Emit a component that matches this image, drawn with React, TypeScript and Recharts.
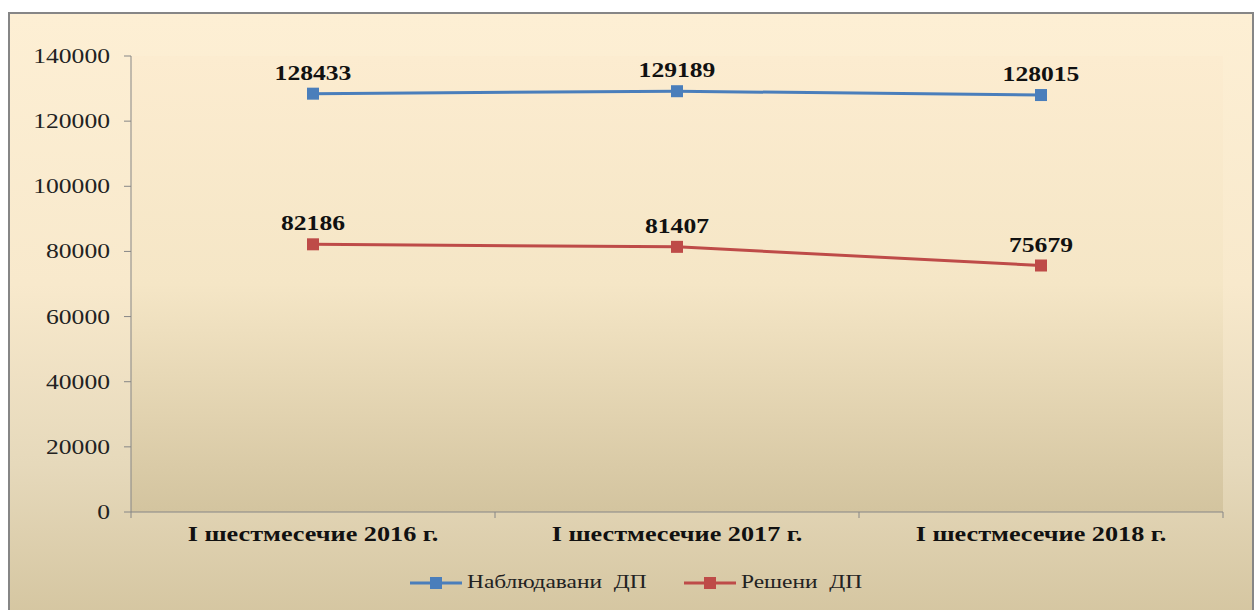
import React from "react";
import { CartesianGrid, LabelList, Legend, Line, LineChart, XAxis, YAxis } from "recharts";

const categories = ["I шестмесечие 2016 г.", "I шестмесечие 2017 г.", "I шестмесечие 2018 г."];
const observed = [128433, 129189, 128015];
const solved = [82186, 81407, 75679];
const yTicks = [0, 20000, 40000, 60000, 80000, 100000, 120000, 140000];

const seriesNames = ["Наблюдавани  ДП", "Решени  ДП"];
const seriesColors = ["#4a7ebb", "#be4b48"];

const data = categories.map((c, i) => ({ cat: c, observed: observed[i], solved: solved[i] }));

const FONT = "'Liberation Serif', 'Times New Roman', serif";
const BAND = 364;
// the original is stretched sideways a bit
const SX = 1.22;

function SquareDot(props: any) {
  const { cx, cy, stroke } = props;
  if (cx == null || cy == null) return null;
  return <rect x={cx - 6} y={cy - 6} width={12} height={12} fill={stroke} />;
}

function WideText({ x, y, anchor, size, bold, children }: any) {
  return (
    <text
      transform={`translate(${x},${y}) scale(${SX},1)`}
      textAnchor={anchor}
      fontFamily={FONT}
      fontSize={size}
      fontWeight={bold ? "bold" : "normal"}
      fill={bold ? "#111" : "#222"}
    >
      {children}
    </text>
  );
}

function XTick(props: any) {
  const { x, y, payload, index } = props;
  const last = index === categories.length - 1;
  return (
    <g>
      <line x1={x - BAND / 2} y1={y - 8} x2={x - BAND / 2} y2={y - 2} stroke="#868686" />
      {last && <line x1={x + BAND / 2} y1={y - 8} x2={x + BAND / 2} y2={y - 2} stroke="#868686" />}
      <WideText x={x} y={y + 21} anchor="middle" size={21.5} bold>
        {payload.value}
      </WideText>
    </g>
  );
}

function YTick(props: any) {
  const { x, y, payload } = props;
  return (
    <WideText x={x} y={y + 7} anchor="end" size={21}>
      {payload.value}
    </WideText>
  );
}

function PointLabel(props: any) {
  const { x, y, value } = props;
  return (
    <WideText x={x} y={y - 14} anchor="middle" size={21} bold>
      {value}
    </WideText>
  );
}

function LegendContent() {
  return (
    <div style={{ display: "flex", justifyContent: "center", gap: 36, fontFamily: FONT, fontSize: 18, color: "#222", paddingLeft: 34 }}>
      {seriesNames.map((n, i) => (
        <div key={n} style={{ display: "flex", alignItems: "center" }}>
          <svg width={54} height={14}>
            <line x1={1} y1={7} x2={53} y2={7} stroke={seriesColors[i]} strokeWidth={3} />
            <rect x={21} y={1} width={12} height={12} fill={seriesColors[i]} />
          </svg>
          <span style={{ marginLeft: 4, whiteSpace: "pre", display: "inline-block", transform: "scaleX(1.3)", transformOrigin: "left center", width: n === seriesNames[0] ? 180 : 118 }}>
            {n}
          </span>
        </div>
      ))}
    </div>
  );
}

export default function App() {
  return (
    <div style={{ position: "absolute", left: 0, top: 0, width: 1255, height: 610, background: "#fff", overflow: "hidden" }}>
      <div
        style={{
          position: "absolute",
          left: 8,
          top: 12,
          width: 1242,
          height: 600,
          border: "2px solid #868686",
          borderBottom: "none",
          background: "linear-gradient(to bottom, #fdefd4 0%, #f8e9cc 45%, #e6d9bb 75%, #d5c6a1 100%)",
        }}
      >
        <LineChart width={1242} height={598} data={data} margin={{ top: 42, right: 29, bottom: 0, left: 0 }}>
          <defs>
            <linearGradient id="plotBg" x1="0" y1="0" x2="0" y2="1">
              <stop offset="0%" stopColor="#fcecd0" />
              <stop offset="50%" stopColor="#f5e6c6" />
              <stop offset="100%" stopColor="#d3c49f" />
            </linearGradient>
          </defs>
          <CartesianGrid fill="url(#plotBg)" horizontal={false} vertical={false} />
          <XAxis
            dataKey="cat"
            scale="band"
            axisLine={{ stroke: "#868686" }}
            tickLine={false}
            tick={<XTick />}
            height={60}
            interval={0}
          />
          <YAxis
            domain={[0, 140000]}
            ticks={yTicks}
            width={121}
            axisLine={{ stroke: "#868686" }}
            tickLine={{ stroke: "#868686" }}
            tickSize={7}
            tickMargin={14}
            tick={<YTick />}
          />
          <Legend verticalAlign="bottom" height={40} content={<LegendContent />} />
          <Line
            dataKey="observed"
            name={seriesNames[0]}
            stroke={seriesColors[0]}
            strokeWidth={3}
            dot={<SquareDot />}
            isAnimationActive={false}
          >
            <LabelList dataKey="observed" content={<PointLabel />} />
          </Line>
          <Line
            dataKey="solved"
            name={seriesNames[1]}
            stroke={seriesColors[1]}
            strokeWidth={3}
            dot={<SquareDot />}
            isAnimationActive={false}
          >
            <LabelList dataKey="solved" content={<PointLabel />} />
          </Line>
        </LineChart>
      </div>
    </div>
  );
}
